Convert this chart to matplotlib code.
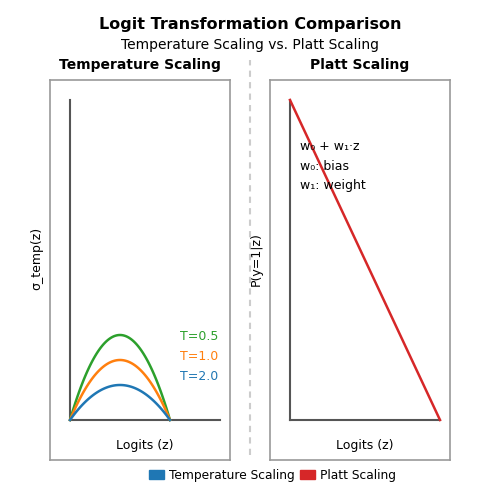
import matplotlib
matplotlib.use("Agg")
import matplotlib.pyplot as plt
from matplotlib.lines import Line2D
from matplotlib.patches import Patch
import numpy as np

# schematic values (data units: x 0..9, y 0..19)
temps = ["0.5", "1.0", "2.0"]
temp_colors = ["tab:green", "tab:orange", "tab:blue"]
peak_heights = [4.25, 3.0, 1.75]
label_y = [6.2, 5.2, 4.2]

platt_x = [1.0, 8.5]
platt_y = [18.0, 2.0]
platt_notes = ["w\u2080 + w\u2081\u00b7z", "w\u2080: bias", "w\u2081: weight"]
note_y = [15.7, 14.7, 13.7]

fig = plt.figure(figsize=(5, 5), dpi=100)
fig.suptitle("Logit Transformation Comparison", fontsize=11.5, fontweight="bold", y=0.966)
fig.text(0.5, 0.909, "Temperature Scaling vs. Platt Scaling", ha="center", va="center", fontsize=10)

ax1 = fig.add_axes([0.1, 0.08, 0.36, 0.76])
ax2 = fig.add_axes([0.54, 0.08, 0.36, 0.76])

for ax in (ax1, ax2):
    ax.set_xlim(0, 9)
    ax.set_ylim(0, 19)
    ax.set_xticks([])
    ax.set_yticks([])
    for s in ax.spines.values():
        s.set_color("#999999")
        s.set_linewidth(1.2)
    # drawn axis lines
    ax.plot([1, 1], [2, 18], color="#555555", lw=1.5)
    ax.plot([1, 8.5], [2, 2], color="#555555", lw=1.5)
    ax.text(4.75, 0.75, "Logits (z)", ha="center", va="center", fontsize=9)

# temperature curves
x = np.linspace(1, 6, 120)
for t, c, h, ly in zip(temps, temp_colors, peak_heights, label_y):
    y = 2 + h * (1 - ((x - 3.5) / 2.5) ** 2)
    ax1.plot(x, y, color=c, lw=1.8)
    ax1.text(6.5, ly, "T=" + t, color=c, fontsize=9, va="center")

ax1.set_title("Temperature Scaling", fontsize=10, fontweight="bold", pad=8)
ax1.set_ylabel("\u03c3_temp(z)", fontsize=9)
ax1.yaxis.set_label_coords(-0.035, 0.53)

# platt line
ax2.plot(platt_x, platt_y, color="tab:red", lw=1.8)
for note, ny in zip(platt_notes, note_y):
    ax2.text(1.5, ny, note, fontsize=9, va="center")
ax2.set_title("Platt Scaling", fontsize=10, fontweight="bold", pad=8)
ax2.set_ylabel("P(y=1|z)", fontsize=9)
ax2.yaxis.set_label_coords(-0.04, 0.53)

# divider
fig.add_artist(Line2D([0.5, 0.5], [0.09, 0.88], transform=fig.transFigure,
                      color="#cccccc", lw=1.5, linestyle=(0, (3, 2.5))))

handles = [Patch(color="tab:blue", label="Temperature Scaling"),
           Patch(color="tab:red", label="Platt Scaling")]
fig.legend(handles=handles, loc="center", bbox_to_anchor=(0.545, 0.05), ncol=2,
           frameon=False, fontsize=8.8, handlelength=1.2, handletextpad=0.4,
           columnspacing=0.5)

fig.savefig("out.png", dpi=100)
